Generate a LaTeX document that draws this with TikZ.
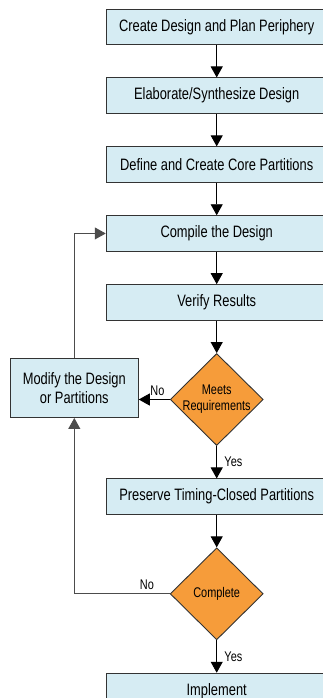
\documentclass[tikz,border=0pt]{standalone}
\usepackage{fontspec}
\setmainfont{Liberation Sans}[FakeStretch=0.78]
\usepackage{tikz}
\usetikzlibrary{positioning}
\usetikzlibrary{shapes.geometric,arrows.meta}
\definecolor{boxblue}{RGB}{214,236,243}
\definecolor{decorange}{RGB}{246,156,58}

\begin{document}
\begin{tikzpicture}[->,>={Triangle[width=12pt,length=11pt]},line width=0.9pt,
  node distance=32.5pt,font=\fontsize{16.5}{19}\selectfont]
\useasboundingbox (0,0) rectangle (323pt,-698pt);
\tikzset{StepBox/.style = {draw=black!80,fill=boxblue,rectangle,
                           minimum width=221pt,minimum height=35.5pt},
         Decision/.style = {draw=black!80,fill=decorange,diamond,inner sep=0pt,
                           minimum width=93pt,minimum height=92pt},
         DecText/.style = {align=center,font=\fontsize{14}{16}\selectfont},
         Answer/.style = {font=\fontsize{14}{15}\selectfont}}
\node[StepBox] (create) at (216.7pt,-26.75pt) {Create Design and Plan Periphery};
\node[StepBox,below=of create] (elab) {Elaborate/Synthesize Design};
\node[StepBox,below=of elab] (define) {Define and Create Core Partitions};
\node[StepBox,below=of define] (compile) {Compile the Design};
\node[StepBox,below=of compile] (verify) {Verify Results};
\node[Decision,below=of verify] (meets) {};
\node[DecText] at (meets) {Meets\\Requirements};
\node[StepBox,below=of meets] (preserve) {Preserve Timing-Closed Partitions};
\node[Decision,below=of preserve] (complete) {};
\node[DecText] at (complete) {Complete};
\node[StepBox,below=of complete] (implement) {Implement};
\node[StepBox,minimum width=128pt,minimum height=59pt,align=center,
      left=31pt of meets,yshift=11.5pt] (modify) {Modify the Design\\or Partitions};

\foreach \a/\b in {create/elab,elab/define,define/compile,compile/verify,verify/meets}
  \draw (\a) -- (\b);
\draw (meets) -- node[Answer,right,xshift=4pt] {Yes} (preserve);
\draw (preserve) -- (complete);
\draw (complete) -- node[Answer,right,xshift=4pt] {Yes} (implement);
\draw (meets.west) -- node[Answer,above,pos=0.4] {No} (meets.west -| modify.east);
\draw[black!70] (modify.north) |- (compile.west);
\draw[black!70] (complete.west) -| node[Answer,above,pos=0.12,black] {No} (modify.south);
\end{tikzpicture}
\end{document}
